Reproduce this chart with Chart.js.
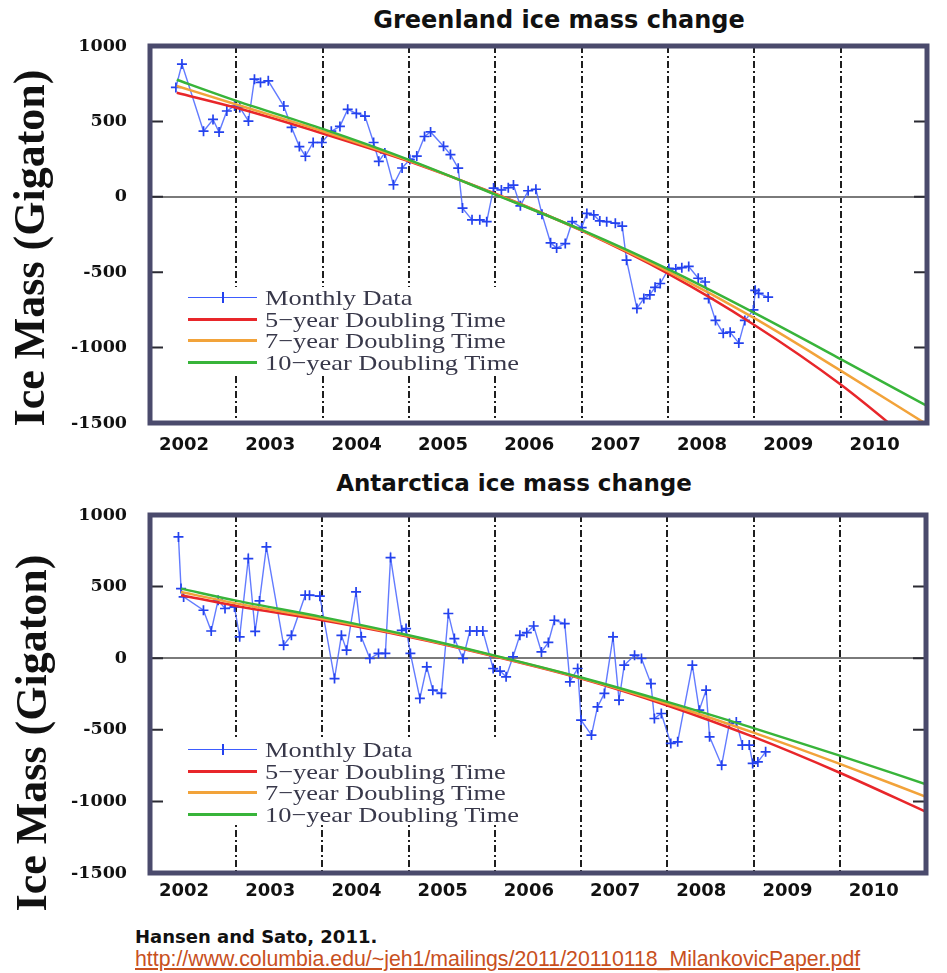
<!DOCTYPE html>
<html>
<head>
<meta charset="utf-8">
<script src="https://cdn.jsdelivr.net/npm/chart.js@4.4.1/dist/chart.umd.min.js"></script>
<style>
  body { margin:0; background:#fff; }
  #page { position:relative; width:947px; height:973px; overflow:hidden; background:#fff; }
  .box { position:absolute; left:0; width:947px; }
  .title { position:absolute; font-family:"DejaVu Sans", sans-serif; font-weight:bold; white-space:nowrap; transform:translateX(-50%); color:#111; }
  .ytitle { position:absolute; font:bold 44px "Liberation Serif", serif; line-height:44px; white-space:nowrap; color:#111; transform:translate(-50%,-50%) rotate(-90deg); }
  .legend { position:absolute; left:185px; width:335px; background:#fff; }
  .legend .row { position:relative; height:21.5px; }
  .legend .sample { position:absolute; left:3px; top:9px; width:69px; height:0; border-top:3px solid; }
  .legend .mark { position:absolute; left:37px; top:5px; width:0; height:11px; border-left:2px solid #2442ee; }
  .legend .txt { position:absolute; left:80px; top:0; font:22px "Liberation Serif", serif; line-height:21.5px; color:#38384a; transform:scaleX(1.2); transform-origin:0 50%; white-space:nowrap; }
  .cite { position:absolute; left:135px; top:928px; font:bold 18px "DejaVu Sans", sans-serif; line-height:18px; color:#111; white-space:nowrap; }
  .link { position:absolute; left:135px; top:949px; font:21.3px "Liberation Sans", sans-serif; line-height:21px; color:#c8501e; text-decoration:underline; white-space:nowrap; }
</style>
</head>
<body>
<div id="page">
  <div class="title" style="left:559px; top:8px; font-size:24px; line-height:24px;">Greenland ice mass change</div>
  <div class="title" style="left:514px; top:472px; font-size:23px; line-height:23px;">Antarctica ice mass change</div>
  <div class="box" style="top:0; height:465px;"><canvas id="greenland"></canvas></div>
  <div class="box" style="top:465px; height:450px;"><canvas id="antarctica"></canvas></div>
  <div class="ytitle" style="left:30px; top:248px;">Ice Mass (Gigaton)</div>
  <div class="ytitle" style="left:32px; top:733px;">Ice Mass (Gigaton)</div>
  <div class="legend" id="legendTop" style="top:287px;"></div>
  <div class="legend" id="legendBottom" style="top:739px;"></div>
  <div class="cite">Hansen and Sato, 2011.</div>
  <div class="link">http://www.columbia.edu/~jeh1/mailings/2011/20110118_MilankovicPaper.pdf</div>
</div>
<script>
const yearTicks = [2002, 2003, 2004, 2005, 2006, 2007, 2008, 2009, 2010];
const massTicks = [-1500, -1000, -500, 0, 500, 1000];

const seriesLabels = ['Monthly Data', '5\u2212year Doubling Time', '7\u2212year Doubling Time', '10\u2212year Doubling Time'];
const seriesColors = ['#3d5cff', '#e8262a', '#f2a33a', '#38b43a'];

// Greenland monthly data
const greenlandYears = [2002.30, 2002.37, 2002.62, 2002.73, 2002.80, 2002.89, 2002.98, 2003.04, 2003.14, 2003.21,
  2003.28, 2003.37, 2003.55, 2003.64, 2003.73, 2003.80, 2003.89, 2003.99, 2004.10, 2004.20,
  2004.29, 2004.39, 2004.49, 2004.59, 2004.65, 2004.72, 2004.82, 2004.92, 2005.01, 2005.09,
  2005.18, 2005.25, 2005.40, 2005.48, 2005.57, 2005.62, 2005.73, 2005.82, 2005.90, 2005.98,
  2006.07, 2006.15, 2006.21, 2006.29, 2006.38, 2006.47, 2006.54, 2006.64, 2006.71, 2006.81,
  2006.89, 2007.00, 2007.06, 2007.14, 2007.21, 2007.29, 2007.39, 2007.47, 2007.52, 2007.64,
  2007.72, 2007.79, 2007.85, 2007.91, 2008.01, 2008.09, 2008.16, 2008.24, 2008.35, 2008.43,
  2008.47, 2008.55, 2008.64, 2008.72, 2008.82, 2008.89, 2008.99, 2009.01, 2009.05, 2009.16];
const greenlandMass = [725, 880, 435, 513, 429, 569, 602, 593, 502, 780,
  758, 769, 602, 460, 333, 269, 360, 360, 435, 467,
  580, 553, 535, 360, 235, 291, 80, 191, 247, 270,
  400, 430, 335, 280, 190, -75, -153, -153, -165, 58,
  45, 60, 78, -60, 40, 50, -115, -305, -340, -310,
  -165, -205, -110, -120, -160, -165, -175, -195, -420, -740,
  -675, -650, -600, -575, -475, -478, -470, -462, -540, -565,
  -675, -820, -905, -898, -970, -820, -750, -620, -640, -665];

const greenlandFitYears = [2002.31, 2003, 2004, 2005, 2006, 2007, 2008, 2009, 2010, 2011];
const greenland5yr = [690, 590, 420, 235, 20, -225, -510, -850, -1245, -1710];
const greenland7yr = [735, 612, 435, 240, 17, -222, -495, -805, -1153, -1510];
const greenland10yr = [776, 636, 450, 245, 15, -220, -480, -770, -1076, -1387];

// Antarctica monthly data
const antarcticaYears = [2002.33, 2002.36, 2002.39, 2002.62, 2002.71, 2002.79, 2002.87, 2002.98, 2003.04, 2003.14,
  2003.22, 2003.27, 2003.35, 2003.55, 2003.64, 2003.80, 2003.85, 2003.97, 2004.14, 2004.22,
  2004.28, 2004.39, 2004.45, 2004.55, 2004.65, 2004.73, 2004.79, 2004.92, 2004.97, 2005.02,
  2005.13, 2005.21, 2005.28, 2005.38, 2005.46, 2005.53, 2005.63, 2005.71, 2005.79, 2005.86,
  2005.98, 2006.06, 2006.13, 2006.21, 2006.29, 2006.37, 2006.45, 2006.54, 2006.62, 2006.69,
  2006.81, 2006.87, 2006.96, 2007.00, 2007.12, 2007.19, 2007.27, 2007.37, 2007.44, 2007.50,
  2007.62, 2007.70, 2007.81, 2007.85, 2007.93, 2008.04, 2008.12, 2008.29, 2008.37, 2008.45,
  2008.49, 2008.63, 2008.72, 2008.80, 2008.87, 2008.95, 2008.99, 2009.05, 2009.14];
const antarcticaMass = [847, 486, 428, 335, 190, 405, 347, 358, 149, 696,
  188, 400, 777, 91, 160, 440, 440, 433, -142, 160,
  56, 463, 149, -2, 33, 33, 703, 195, 207, 33,
  -281, -60, -223, -246, 312, 137, -2, 190, 190, 190,
  -72, -90, -130, 10, 160, 178, 225, 44, 110, 265,
  242, -165, -72, -433, -537, -340, -246, 149, -293, -49,
  21, -2, -177, -421, -386, -595, -584, -49, -363, -223,
  -549, -747, -456, -445, -607, -607, -735, -724, -654];

const antarcticaFitYears = [2002.36, 2003, 2004, 2005, 2006, 2007, 2008, 2009, 2010, 2011];
const antarctica5yr = [440, 365, 265, 150, 12, -142, -330, -550, -800, -1073];
const antarctica7yr = [462, 383, 276, 155, 15, -138, -318, -520, -738, -968];
const antarctica10yr = [486, 402, 287, 160, 18, -135, -305, -488, -680, -880];

const toPoints = (xs, ys) => xs.map((x, i) => ({ x, y: ys[i] }));

const framePlugin = {
  id: 'frame',
  afterDraw(chart) {
    const { ctx, chartArea: a, scales: { y } } = chart;
    ctx.save();
    ctx.strokeStyle = '#2b2b33';
    ctx.lineWidth = 2;
    y.ticks.forEach(t => {
      if (t.value <= y.min || t.value >= y.max) return;
      const py = y.getPixelForValue(t.value);
      ctx.beginPath();
      ctx.moveTo(a.left, py); ctx.lineTo(a.left + 13, py);
      ctx.moveTo(a.right - 13, py); ctx.lineTo(a.right, py);
      ctx.stroke();
    });
    ctx.strokeStyle = '#4a4a6c';
    ctx.lineWidth = 5;
    ctx.strokeRect(a.left, a.top, a.right - a.left, a.bottom - a.top);
    ctx.restore();
  }
};

function fitLine(label, color, xs, ys) {
  return { label, data: toPoints(xs, ys), borderColor: color, borderWidth: 2.5,
    pointRadius: 0, cubicInterpolationMode: 'monotone' };
}

function makeChart(id, years, mass, fitYears, fit5, fit7, fit10, pad, xHeight, xPad) {
  return new Chart(document.getElementById(id), {
    type: 'line',
    data: {
      datasets: [
        fitLine(seriesLabels[3], seriesColors[3], fitYears, fit10),
        fitLine(seriesLabels[2], seriesColors[2], fitYears, fit7),
        fitLine(seriesLabels[1], seriesColors[1], fitYears, fit5),
        { label: seriesLabels[0], data: toPoints(years, mass), borderColor: 'rgba(70,100,255,0.85)',
          borderWidth: 1.4, pointStyle: 'cross', pointRadius: 5, pointBorderWidth: 1.7,
          pointBorderColor: '#2442ee', tension: 0 }
      ]
    },
    options: {
      responsive: true, maintainAspectRatio: false, animation: false,
      layout: { padding: pad },
      plugins: { legend: { display: false }, tooltip: { enabled: false } },
      scales: {
        x: {
          type: 'linear', min: 2002, max: 2011,
          afterBuildTicks: s => { s.ticks = yearTicks.map(v => ({ value: v })); },
          afterFit: s => { s.height = xHeight; },
          grid: { color: '#1e1e1e', lineWidth: 2, drawTicks: false },
          border: { display: false, dash: [7, 3, 2, 3] },
          ticks: { callback: v => String(v), labelOffset: 34, padding: xPad, autoSkip: false, maxRotation: 0,
            color: '#111', font: { family: 'DejaVu Sans', weight: 'bold', size: 18 } }
        },
        y: {
          min: -1500, max: 1000,
          afterBuildTicks: s => { s.ticks = massTicks.map(v => ({ value: v })); },
          afterFit: s => { s.width = 150; },
          grid: { color: c => (c.tick && c.tick.value === 0) ? '#7a7a7a' : 'rgba(0,0,0,0)', lineWidth: 2, drawTicks: false },
          border: { display: false },
          ticks: { callback: v => String(v), padding: 23, color: '#111',
            font: { family: 'DejaVu Serif', weight: 'bold', size: 17.5 } }
        }
      }
    },
    plugins: [framePlugin]
  });
}

function buildLegend(id) {
  const box = document.getElementById(id);
  seriesLabels.forEach((label, i) => {
    const row = document.createElement('div');
    row.className = 'row';
    const thick = i === 0 ? 1.5 : 3;
    row.innerHTML = `<div class="sample" style="border-top:${thick}px solid ${seriesColors[i]};${i === 0 ? 'top:10px;' : ''}"></div>` +
      (i === 0 ? '<div class="mark"></div>' : '') +
      `<span class="txt">${label}</span>`;
    box.appendChild(row);
  });
}

makeChart('greenland', greenlandYears, greenlandMass, greenlandFitYears, greenland5yr, greenland7yr, greenland10yr,
  { left: 0, top: 46, right: 20, bottom: 0 }, 42, 12);
makeChart('antarctica', antarcticaYears, antarcticaMass, antarcticaFitYears, antarctica5yr, antarctica7yr, antarctica10yr,
  { left: 0, top: 50, right: 21, bottom: 0 }, 42, 8);
buildLegend('legendTop');
buildLegend('legendBottom');
</script>
</body>
</html>
